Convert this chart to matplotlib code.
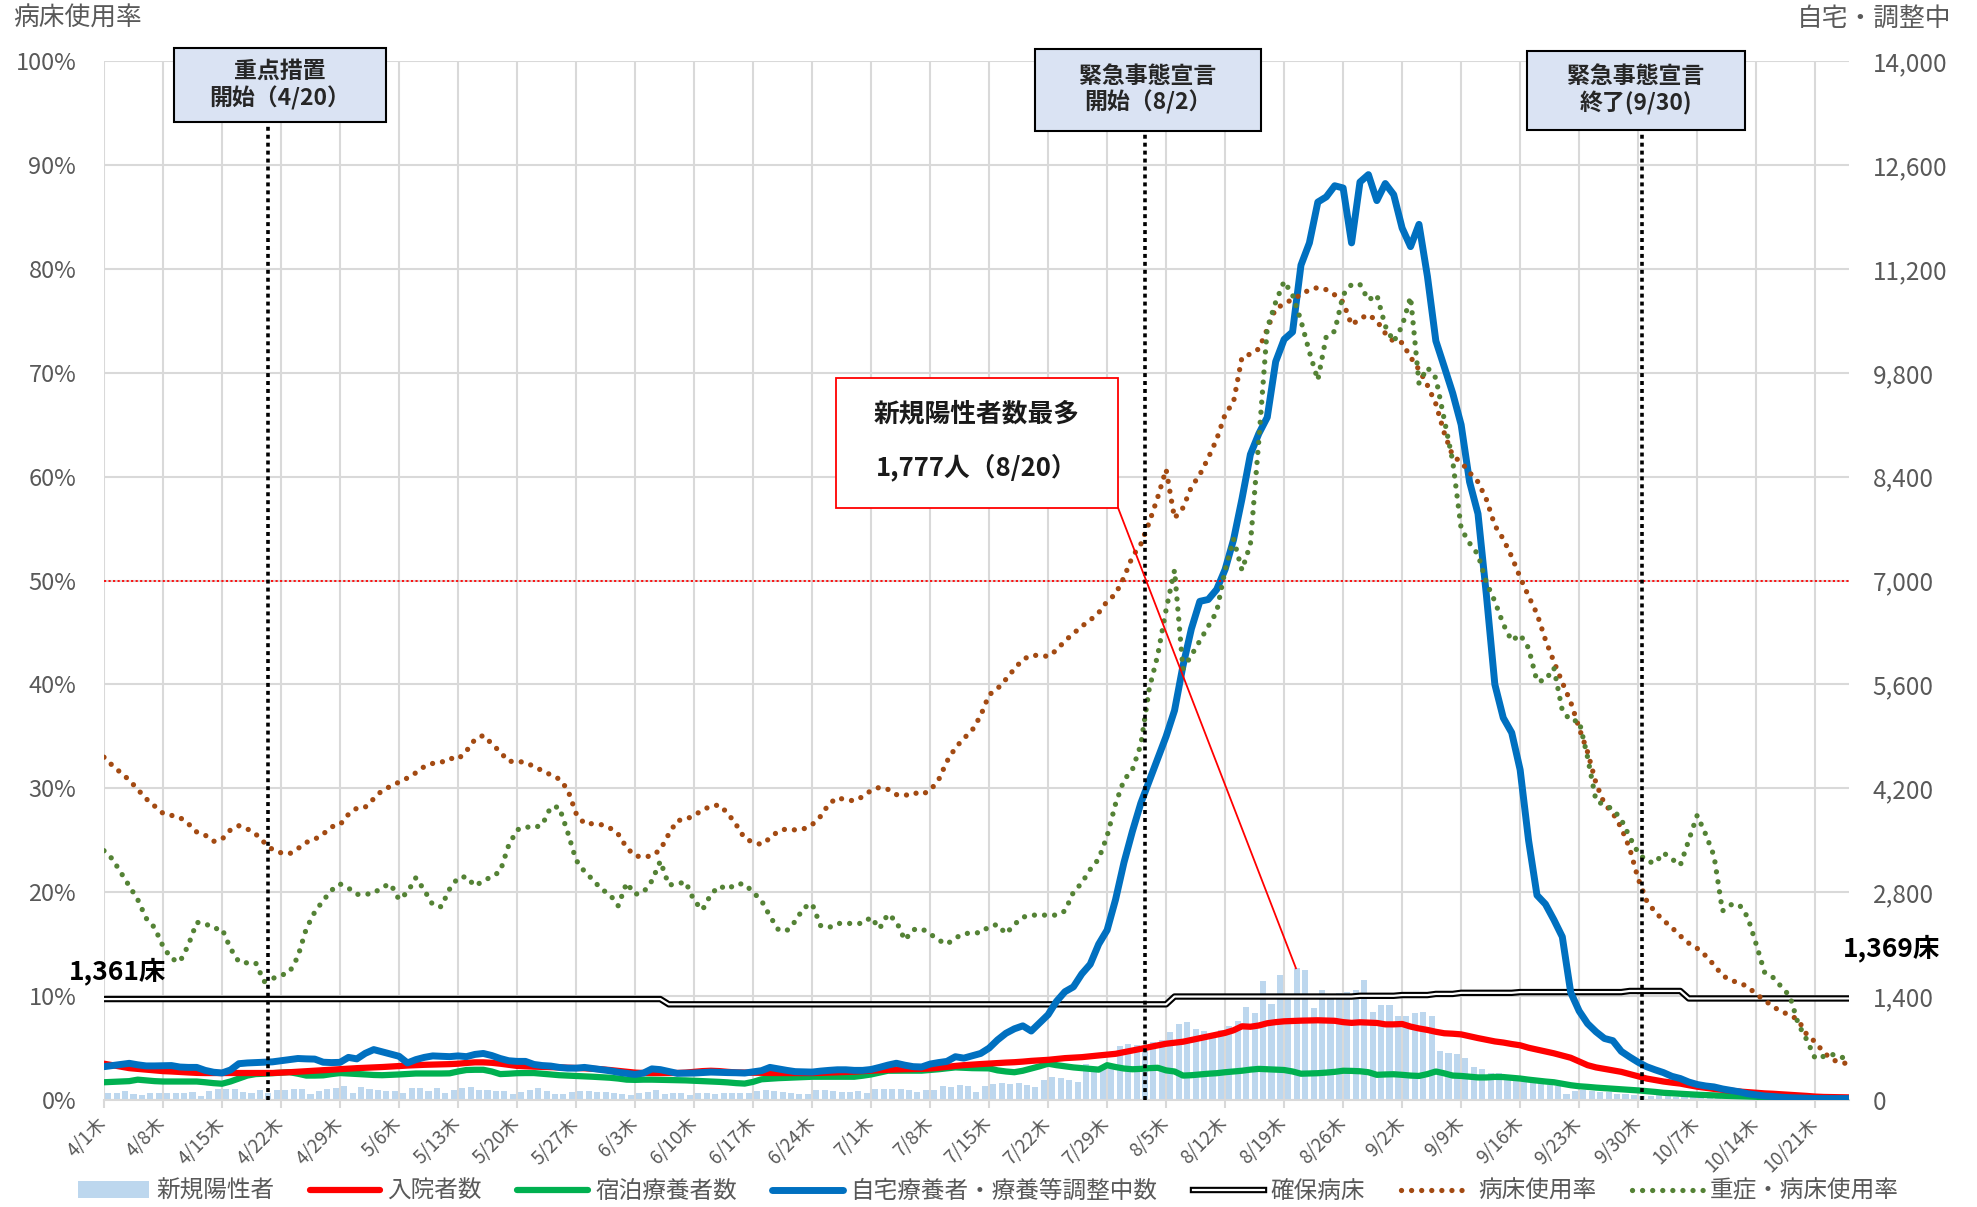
import numpy as np
import matplotlib
matplotlib.use('Agg')
import matplotlib.pyplot as plt
import matplotlib.patheffects as pe
from matplotlib.patches import Rectangle

plt.rcParams['font.family'] = ['Noto Sans CJK JP', 'DejaVu Sans']

# ---- data: one value per day, 4/1 .. 10/25 (rows = weeks starting Thursday) ----
# 病床使用率 (%)
bed_rate = [
    33.0, 32.2, 31.5, 30.8, 29.9, 29.0, 28.3,
    27.6, 27.4, 27.2, 26.6, 25.8, 25.5, 24.9,
    25.1, 26.0, 26.4, 26.1, 25.6, 24.8, 24.1,
    23.8, 23.7, 24.2, 24.8, 25.1, 25.6, 26.3,
    26.5, 27.5, 28.1, 28.2, 29.0, 29.8, 30.2,
    30.6, 31.0, 31.5, 32.1, 32.4, 32.5, 32.9,
    32.8, 33.6, 34.7, 35.1, 34.3, 33.5, 32.6,
    32.6, 32.5, 32.1, 31.7, 31.3, 30.9, 29.9,
    27.6, 26.6, 26.6, 26.5, 26.2, 25.6, 24.3,
    23.5, 23.4, 23.5, 24.1, 25.6, 26.9, 27.0,
    27.4, 27.9, 28.3, 28.4, 27.6, 26.5, 25.2,
    24.8, 24.6, 25.2, 25.9, 26.1, 26.0, 26.1,
    26.5, 27.3, 28.5, 29.1, 28.9, 28.8, 29.2,
    29.8, 30.1, 29.9, 29.4, 29.3, 29.6, 29.4,
    29.8, 30.8, 32.6, 33.9, 34.8, 35.6, 37.0,
    39.0, 39.6, 40.5, 41.5, 42.4, 42.8, 42.8,
    42.7, 43.3, 44.2, 44.9, 45.6, 46.2, 46.9,
    48.0, 48.7, 50.3, 52.3, 53.5, 55.6, 58.0,
    60.7, 56.0, 57.0, 59.0, 60.2, 61.8, 63.6,
    66.0, 67.2, 71.5, 71.8, 72.3, 74.2, 76.2,
    76.6, 77.1, 77.5, 78.0, 78.2, 78.0, 77.5,
    76.8, 74.6, 75.2, 75.6, 75.0, 73.8, 73.0,
    72.9, 71.5, 70.3, 68.8, 67.0, 64.2, 62.0,
    61.4, 60.4, 59.5, 57.8, 55.3, 54.0, 52.3,
    50.3, 48.5, 46.8, 44.3, 42.2, 40.2, 38.3,
    35.8, 33.5, 30.5, 28.5, 27.6, 26.2, 24.2,
    21.3, 19.2, 18.1, 17.3, 16.6, 15.8, 15.1,
    14.6, 13.9, 13.0, 12.0, 11.5, 11.3, 10.9,
    10.2, 9.6, 9.0, 8.5, 8.2, 7.7, 6.3,
    5.6, 4.6, 3.9, 3.6, 3.5,
]

# 重症・病床使用率 (%)
severe_rate = [
    24.0, 23.2, 21.9, 20.6, 19.3, 17.5, 16.6,
    14.8, 13.6, 13.3, 14.9, 17.1, 17.0, 16.5,
    16.5, 14.6, 13.3, 13.2, 13.2, 11.4, 11.7,
    12.0, 12.3, 13.8, 16.5, 18.1, 19.2, 20.2,
    20.8, 20.4, 19.8, 19.8, 19.9, 20.5, 20.8,
    19.3, 20.0, 21.4, 20.2, 18.8, 18.6, 20.3,
    21.4, 21.5, 20.6, 21.1, 21.5, 22.0, 24.5,
    26.0, 26.3, 26.2, 26.5, 28.2, 28.2, 25.8,
    23.1, 22.0, 21.2, 20.3, 19.8, 18.7, 20.9,
    19.8, 20.0, 21.1, 23.0, 20.7, 20.8, 21.0,
    19.2, 18.3, 19.8, 20.6, 20.3, 20.8, 20.8,
    20.0, 19.2, 17.7, 16.4, 16.3, 17.2, 18.5,
    18.9, 16.8, 16.6, 17.0, 17.0, 17.0, 17.0,
    17.6, 16.5, 17.9, 17.2, 15.4, 16.4, 16.5,
    16.0, 15.4, 15.0, 15.6, 16.0, 16.1, 16.1,
    16.7, 16.9, 16.0, 16.9, 17.6, 17.8, 17.8,
    17.8, 17.8, 18.2, 20.0, 20.9, 22.2, 23.2,
    25.4, 28.5, 30.8, 31.8, 34.2, 39.6, 42.8,
    47.2, 51.0, 41.5, 42.8, 44.2, 45.6, 47.0,
    51.0, 54.0, 51.0, 53.5, 63.5, 74.3, 76.8,
    78.8, 77.5, 75.0, 72.0, 69.3, 73.5, 74.0,
    77.5, 78.5, 78.5, 77.0, 77.5, 74.5, 73.0,
    74.5, 77.3, 69.0, 70.5, 69.5, 65.5, 61.5,
    55.0, 53.6, 52.5, 49.8, 48.0, 45.8, 44.2,
    44.8, 43.5, 40.3, 40.4, 41.6, 37.5, 36.5,
    36.5, 33.0, 28.8, 28.4, 28.0, 27.0, 25.3,
    23.8, 23.0, 22.8, 23.8, 23.2, 22.6, 25.0,
    27.4, 25.6, 23.5, 18.2, 18.8, 18.8, 17.6,
    15.0, 12.3, 11.8, 10.9, 10.0, 7.3, 5.8,
    4.0, 4.2, 4.4, 4.1, 4.1,
]

# 自宅療養者・療養等調整中数
home = [
    450, 465, 480, 495, 475, 460, 460,
    462, 465, 445, 440, 440, 400, 375,
    365, 405, 490, 500, 505, 510, 515,
    530, 545, 560, 555, 552, 510, 505,
    508, 575, 555, 630, 680, 650, 620,
    590, 500, 545, 575, 595, 590, 585,
    595, 585, 615, 628, 600, 560, 530,
    521, 521, 480, 465, 458, 440, 430,
    430, 440, 425, 410, 395, 375, 360,
    345, 364, 420, 410, 385, 360, 362,
    364, 370, 377, 373, 370, 368, 364,
    380, 396, 440, 420, 400, 383, 380,
    377, 390, 400, 408, 408, 400, 400,
    412, 440, 471, 496, 470, 450, 446,
    485, 505, 521, 584, 565, 596, 628,
    700, 810, 900, 960, 1000, 930, 1040,
    1150, 1330, 1460, 1525, 1700, 1830, 2100,
    2290, 2700, 3200, 3620, 4000, 4300, 4600,
    4900, 5250, 5850, 6350, 6720, 6745, 6880,
    7150, 7550, 8100, 8700, 8980, 9200, 9950,
    10250, 10350, 11250, 11550, 12100, 12170, 12320,
    12290, 11550, 12370, 12470, 12120, 12350, 12200,
    11750, 11500, 11800, 11100, 10230, 9880, 9525,
    9100, 8330, 7900, 6800, 5600, 5150, 4950,
    4450, 3500, 2760, 2640, 2430, 2200, 1450,
    1200, 1030, 920, 830, 800, 656, 580,
    510, 450, 408, 370, 320, 290, 243,
    210, 190, 177, 150, 130, 111, 85,
    70, 55, 48, 38, 32, 29, 25,
    21, 20, 20, 20, 20,
]

# 入院者数
hospital = [
    490, 470, 450, 430, 420, 410, 400,
    390, 385, 378, 372, 366, 364, 364,
    364, 364, 364, 364, 364, 364, 365,
    370, 375, 382, 389, 395, 403, 410,
    418, 425, 430, 435, 440, 445, 452,
    458, 465, 470, 475, 478, 481, 484,
    490, 500, 508, 508, 502, 490, 475,
    460, 455, 450, 447, 443, 440, 436,
    432, 428, 422, 415, 405, 393, 380,
    370, 365, 364, 364, 364, 365, 370,
    380, 390, 395, 390, 380, 372, 370,
    368, 366, 365, 364, 364, 364, 364,
    364, 366, 370, 374, 378, 383, 390,
    396, 402, 408, 412, 416, 418, 420,
    425, 435, 448, 460, 470, 478, 485,
    492, 498, 505, 510, 518, 528, 535,
    542, 553, 565, 572, 578, 590, 601,
    612, 623, 645, 668, 690, 714, 736,
    759, 772, 786, 810, 835, 858, 881,
    905, 940, 994, 988, 1005, 1035, 1050,
    1061, 1066, 1070, 1073, 1075, 1072, 1068,
    1050, 1040, 1048, 1043, 1039, 1020, 1020,
    1025, 990, 965, 945, 920, 900, 894,
    885, 860, 835, 813, 790, 775, 755,
    738, 705, 680, 655, 630, 600, 570,
    520, 470, 440, 420, 400, 380, 350,
    320, 290, 270, 250, 235, 222, 200,
    180, 165, 150, 138, 125, 115, 107,
    98, 90, 85, 78, 72, 64, 56,
    47, 42, 40, 37, 36,
]

# 宿泊療養者数
hotel = [
    240, 245, 250, 255, 275, 265, 255,
    250, 250, 250, 250, 250, 240, 228,
    220, 250, 290, 330, 350, 355, 362,
    370, 376, 355, 330, 330, 333, 350,
    364, 358, 352, 345, 338, 335, 340,
    345, 352, 358, 358, 358, 358, 360,
    385, 405, 408, 408, 385, 350, 355,
    362, 364, 364, 355, 345, 335, 330,
    326, 320, 314, 308, 301, 290, 275,
    272, 275, 275, 272, 270, 268, 265,
    260, 255, 251, 245, 238, 228, 222,
    245, 280, 288, 295, 300, 305, 310,
    314, 314, 314, 314, 314, 314, 328,
    345, 370, 395, 396, 396, 396, 396,
    405, 415, 428, 440, 435, 430, 428,
    427, 400, 385, 375, 395, 425, 455,
    490, 470, 455, 440, 430, 420, 410,
    470, 445, 425, 415, 420, 430, 435,
    400, 385, 330, 335, 345, 355, 362,
    375, 385, 395, 410, 420, 415, 410,
    405, 385, 355, 358, 362, 370, 380,
    395, 393, 388, 375, 340, 345, 348,
    340, 330, 325, 350, 385, 360, 330,
    325, 315, 305, 305, 312, 310, 300,
    290, 275, 262, 250, 240, 220, 200,
    186, 178, 168, 160, 152, 145, 138,
    130, 120, 110, 98, 92, 85, 78,
    72, 68, 63, 58, 55, 52, 48,
    44, 38, 35, 33, 31, 29, 27,
    25, 23, 22, 21, 21,
]

# 新規陽性者
new_cases = [
    100, 100, 123, 86, 68, 91, 100,
    100, 100, 100, 110, 55, 123, 146,
    150, 146, 114, 100, 132, 100, 132,
    141, 150, 150, 86, 123, 146, 159,
    191, 100, 178, 146, 132, 123, 123,
    100, 159, 159, 123, 168, 100, 141,
    168, 173, 137, 137, 123, 123, 77,
    110, 132, 168, 123, 86, 86, 114,
    123, 123, 110, 110, 100, 86, 68,
    100, 114, 132, 86, 91, 100, 68,
    100, 100, 77, 91, 91, 91, 100,
    123, 132, 123, 110, 91, 77, 86,
    132, 132, 123, 114, 114, 123, 95,
    155, 146, 155, 150, 137, 114, 137,
    141, 196, 182, 205, 187, 114, 187,
    214, 235, 212, 226, 203, 172, 271,
    307, 303, 271, 248, 488, 443, 443,
    461, 723, 759, 741, 723, 777, 813,
    912, 1030, 1048, 962, 926, 867, 948,
    1003, 1061, 1251, 1174, 1600, 1300, 1680,
    1400, 1777, 1753, 1234, 1481, 1398, 1440,
    1456, 1481, 1621, 1193, 1275, 1275, 1134,
    1126, 1167, 1193, 1126, 656, 640, 615,
    573, 450, 425, 367, 367, 326, 301,
    285, 243, 243, 202, 186, 78, 120,
    136, 120, 103, 103, 78, 78, 70,
    60, 55, 65, 50, 45, 55, 50,
    40, 35, 40, 30, 35, 25, 30,
    28, 20, 22, 25, 18, 20, 15,
    18, 12, 15, 14, 10,
]

# 確保病床
beds = ([1361] * 67 + [1290] * 60 + [1395] * 22 + [1405] * 5 + [1415] * 4
        + [1430] * 3 + [1445] * 7 + [1455] * 13 + [1470] * 7 + [1369] * 20)

tick_labels = ['4/1木', '4/8木', '4/15木', '4/22木', '4/29木', '5/6木', '5/13木',
               '5/20木', '5/27木', '6/3木', '6/10木', '6/17木', '6/24木', '7/1木',
               '7/8木', '7/15木', '7/22木', '7/29木', '8/5木', '8/12木', '8/19木',
               '8/26木', '9/2木', '9/9木', '9/16木', '9/23木', '9/30木', '10/7木',
               '10/14木', '10/21木']

legend_labels = ['新規陽性者', '入院者数', '宿泊療養者数', '自宅療養者・療養等調整中数',
                 '確保病床', '病床使用率', '重症・病床使用率']

days = np.arange(len(bed_rate))
GRAY = '#595959'
GRID = '#D9D9D9'

fig = plt.figure(figsize=(19.77, 12.07), dpi=100)
ax = fig.add_axes([0.0526, 0.0886, 0.8826, 0.8608])

# counts on the right-hand axis
bars = ax.bar(days + 0.5, new_cases, width=0.72, color='#BDD7EE', zorder=1)
bd, = ax.plot(days, beds, color='white', lw=1.6, zorder=2,
              path_effects=[pe.Stroke(linewidth=4.6, foreground='black'), pe.Normal()])
gl, = ax.plot(days, hotel, color='#00B050', lw=4.5, zorder=3,
              solid_capstyle='round', solid_joinstyle='round')
rl, = ax.plot(days, hospital, color='#FF0000', lw=4.5, zorder=3,
              solid_capstyle='round', solid_joinstyle='round')
bl, = ax.plot(days, home, color='#0070C0', lw=5, zorder=4,
              solid_capstyle='round', solid_joinstyle='round')

ax.set_xlim(0, 207)
ax.set_ylim(0, 14000)
ax.set_xticks(np.arange(0, 204, 7))
ax.set_xticklabels(tick_labels, rotation=45, ha='right', va='center',
                   rotation_mode='anchor')
ax.tick_params(axis='x', length=6, width=1.5, color=GRID, pad=9,
               labelsize=13.5, labelcolor=GRAY)
ax.grid(True, color=GRID, lw=1.5)
ax.set_axisbelow(True)
for s in ['left', 'right', 'top']:
    ax.spines[s].set_visible(False)
ax.spines['bottom'].set_color(GRID)
ax.spines['bottom'].set_linewidth(1.5)

# percentages on the left-hand axis
axp = ax.twinx()
ax.yaxis.tick_right()
axp.yaxis.tick_left()
ax.set_yticks(np.arange(0, 14001, 1400))
ax.set_yticklabels([f'{v:,}' for v in range(0, 14001, 1400)])
ax.tick_params(axis='y', length=0, pad=17, labelsize=17.5, labelcolor=GRAY)
axp.set_ylim(0, 100)
axp.set_yticks(np.arange(0, 101, 10))
axp.set_yticklabels([f'{v}%' for v in range(0, 101, 10)])
axp.tick_params(axis='y', length=0, pad=20, labelsize=17, labelcolor=GRAY)
for s in axp.spines.values():
    s.set_visible(False)

dot = (0, (0.01, 1.9))
br, = axp.plot(days, bed_rate, color='#A34A12', lw=3.8, ls=dot,
               dash_capstyle='round', zorder=3)
sv, = axp.plot(days, severe_rate, color='#548235', lw=3.8, ls=dot,
               dash_capstyle='round', zorder=4)
axp.axhline(50, color='#FF0000', lw=1.3, ls=(0, (1.2, 1.3)), zorder=2)

# event markers
events = [(19.5, 8.3, 33.45, 101.3, 94.1, '重点措置\n開始（4/20）'),
          (123.5, 110.4, 137.3, 101.2, 93.3, '緊急事態宣言\n開始（8/2）'),
          (182.5, 168.8, 194.7, 101.0, 93.4, '緊急事態宣言\n終了(9/30)')]
for xv, x0, x1, y1, y0, txt in events:
    axp.plot([xv, xv], [0, y0], color='black', lw=2.6, ls=(0, (1.1, 1.1)), zorder=5)
    axp.add_patch(Rectangle((x0, y0), x1 - x0, y1 - y0, facecolor='#DAE3F3',
                            edgecolor='black', lw=1.5, clip_on=False, zorder=6))
    axp.text((x0 + x1) / 2, (y0 + y1) / 2, txt, ha='center', va='center',
             fontsize=16.5, fontweight='bold', color='#262626', linespacing=1.15,
             zorder=7, clip_on=False)

# call-out for the peak of new cases
peak = int(np.argmax(new_cases))
axp.add_patch(Rectangle((86.8, 57.0), 33.5, 12.5, facecolor='white',
                        edgecolor='#FF0000', lw=1.3, zorder=6))
axp.text(103.55, 66.0, '新規陽性者数最多', ha='center', va='center',
         fontsize=18.5, fontweight='bold', color='#1a1a1a', zorder=7)
axp.text(103.55, 60.9, f'{new_cases[peak]:,}人（8/20）', ha='center', va='center',
         fontsize=18.5, fontweight='bold', color='#1a1a1a', zorder=7)
axp.plot([120.3, peak + 0.4], [57.0, new_cases[peak] / 140], color='#FF0000',
         lw=1.3, zorder=6)

axp.text(-4.15, 12.4, f'{beds[0]:,}床', ha='left', va='center', fontsize=19,
         fontweight='bold', color='black', clip_on=False, zorder=7)
axp.text(206.3, 14.6, f'{beds[-1]:,}床', ha='left', va='center', fontsize=19,
         fontweight='bold', color='black', clip_on=False, zorder=7)

fig.text(13 / 1977, 1 - 19 / 1207, '病床使用率', fontsize=18.5, color=GRAY,
         ha='left', va='center')
fig.text(1951 / 1977, 1 - 19 / 1207, '自宅・調整中', fontsize=18.5, color=GRAY,
         ha='right', va='center')

fig.legend([bars, rl, gl, bl, bd, br, sv], legend_labels,
           loc='center', bbox_to_anchor=(0.5, 0.013), ncol=7, frameon=False,
           fontsize=17, handlelength=3.0, handletextpad=0.3, columnspacing=1.5,
           labelcolor=GRAY)

fig.savefig('out.png', dpi=100)
